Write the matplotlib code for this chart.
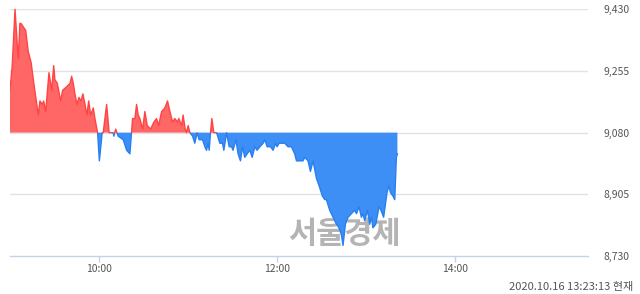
import numpy as np
import matplotlib
matplotlib.use("Agg")
import matplotlib.pyplot as plt
from matplotlib.patches import Rectangle

plt.rcParams['font.family'] = ['Noto Sans CJK KR', 'DejaVu Sans']

# --- data: minutes after 09:00 and price (won) ---
minutes = [
    0, 1.5, 3.4, 4.9, 5.6, 6.7, 7.4, 9.0, 10.6, 12.3, 14.2, 16.4, 19.1, 20.2, 21.8,
    22.7, 24.1, 26.3, 28.1, 29.5, 30.3, 31.9, 34.2, 35.5, 38.2, 40.5, 41.6, 42.7,
    43.8, 45.2, 46.5, 47.9, 49.2, 50.6, 51.9, 53.1, 54.4, 56.2, 57.3, 59.1, 60.3,
    62.2, 62.9, 65.2, 66.9, 69.6, 70.1, 71.3, 73.0, 76.4, 78.7, 80.9, 82.0, 82.7,
    84.3, 85.4, 86.5, 87.6, 89.5, 91.0, 92.6, 94.9, 97.1, 98.9, 100.3, 102.3, 104.5,
    106.3, 107.9, 109.7, 111.2, 113.1, 113.9, 115.8, 116.8, 118.2, 119.1, 120.2,
    121.4, 123.2, 124.7, 126.3, 127.6, 129.9, 131.5, 132.6, 133.7, 134.4, 135.3,
    136.2, 137.5, 139.4, 141.6, 143.4, 144.3, 146.1, 147.9, 149.5, 150.5, 152.4,
    153.9, 155.5, 156.9, 158.4, 160.0, 161.8, 163.4, 165.2, 166.7, 168.6, 170.8,
    171.9, 173.5, 175.8, 177.5, 179.3, 180.2, 181.6, 183.2, 185.4, 187.6, 189.9,
    192.1, 193.3, 195.5, 197.7, 198.9, 201.1, 202.7, 204.5, 206.8, 208.5, 210.8,
    212.4, 213.5, 215.7, 218.0, 220.3, 222.0, 223.6, 224.7, 226.3, 228.1, 230.4,
    232.6, 233.8, 235.5, 237.1, 238.2, 239.3, 241.2, 242.7, 243.9, 244.9, 246.8,
    249.0, 250.3, 252.1, 254.4, 255.7, 256.7, 258.4, 259.6, 260.7, 261.4,
]
prices = [
    9200, 9270, 9430, 9330, 9290, 9390, 9390, 9380, 9370, 9310, 9280, 9210, 9130, 9170, 9160,
    9170, 9140, 9250, 9200, 9270, 9230, 9220, 9170, 9200, 9210, 9220, 9240, 9220,
    9190, 9160, 9180, 9170, 9190, 9160, 9130, 9170, 9130, 9150, 9120, 9080, 9000,
    9080, 9080, 9160, 9080, 9080, 9070, 9090, 9070, 9060, 9030, 9020, 9080, 9120,
    9120, 9160, 9130, 9120, 9090, 9140, 9100, 9090, 9110, 9120, 9100, 9140, 9150,
    9170, 9140, 9110, 9120, 9110, 9120, 9100, 9130, 9090, 9080, 9100,
    9080, 9070, 9050, 9080, 9060, 9060, 9040, 9030, 9050, 9030, 9080,
    9120, 9080, 9080, 9050, 9050, 9030, 9080, 9040, 9040, 9030, 9060,
    9020, 9000, 9040, 9010, 9020, 9030, 9010, 9040, 9030, 9040, 9050,
    9060, 9040, 9040, 9030, 9050, 9040, 9050, 9050, 9050, 9040, 9040,
    9020, 9000, 9000, 9000, 9010, 9000, 8970, 9000, 8950, 8930, 8900,
    8890, 8890, 8860, 8840, 8820, 8810, 8790, 8760, 8820, 8840, 8850,
    8860, 8850, 8870, 8840, 8850, 8830, 8860, 8820, 8840, 8810, 8820,
    8870, 8860, 8840, 8910, 8930, 8910, 8900, 8890, 9010, 9020,
]
prev_close = 9080
y_ticks = [8730, 8905, 9080, 9255, 9430]
x_ticks = [60, 180, 300]
x_labels = ['10:00', '12:00', '14:00']
stamp = '2020.10.16 13:23:13 현재'

x = np.array(minutes)
y = np.array(prices)

red_fill, red_line = '#ff6666', '#ff4444'
blue_fill, blue_line = '#3d8ff5', '#2680f0'

fig = plt.figure(figsize=(6.4, 2.94), dpi=100)
ax = fig.add_axes([10 / 640, 1 - 256 / 294, 578 / 640, (256 - 9.3) / 294])

ax.set_xlim(0, 390)
ax.set_ylim(y_ticks[0], y_ticks[-1])

# watermark behind the chart
ax.text(0.578, 0.09, '서울경제', transform=ax.transAxes, fontsize=22,
        fontweight='bold', color='#b4b4b4', ha='center', va='center', zorder=0.5)

ax.fill_between(x, y, prev_close, where=y >= prev_close, interpolate=True,
                color=red_fill, linewidth=0, zorder=2)
ax.fill_between(x, y, prev_close, where=y <= prev_close, interpolate=True,
                color=blue_fill, linewidth=0, zorder=2)

ln_r, = ax.plot(x, y, color=red_line, lw=1.0, zorder=3)
ln_r.set_clip_path(Rectangle((0, prev_close), 390, 1000, transform=ax.transData))
ln_b, = ax.plot(x, y, color=blue_line, lw=1.0, zorder=3)
ln_b.set_clip_path(Rectangle((0, prev_close - 1000), 390, 1000, transform=ax.transData))

# grid and axes styling
for v in y_ticks[1:]:
    ax.axhline(v, color='#e3e3e3', lw=1.0, zorder=1)

for s in ['top', 'left', 'right']:
    ax.spines[s].set_visible(False)
ax.spines['bottom'].set_color('#c5d3ea')
ax.spines['bottom'].set_linewidth(1.0)

ax.yaxis.tick_right()
ax.set_yticks(y_ticks)
ax.set_yticklabels([f'{v:,}' for v in y_ticks])
ax.tick_params(axis='y', length=0, pad=11, labelsize=7.5, labelcolor='#555555')

ax.set_xticks(x_ticks)
ax.set_xticklabels(x_labels)
ax.tick_params(axis='x', length=4, width=1, color='#c5d3ea', pad=2,
               labelsize=7.5, labelcolor='#555555')

fig.text(633 / 640, 1 - 287 / 294, stamp, ha='right', va='center',
         fontsize=8, color='#555555')

fig.savefig('out.png', dpi=100)
